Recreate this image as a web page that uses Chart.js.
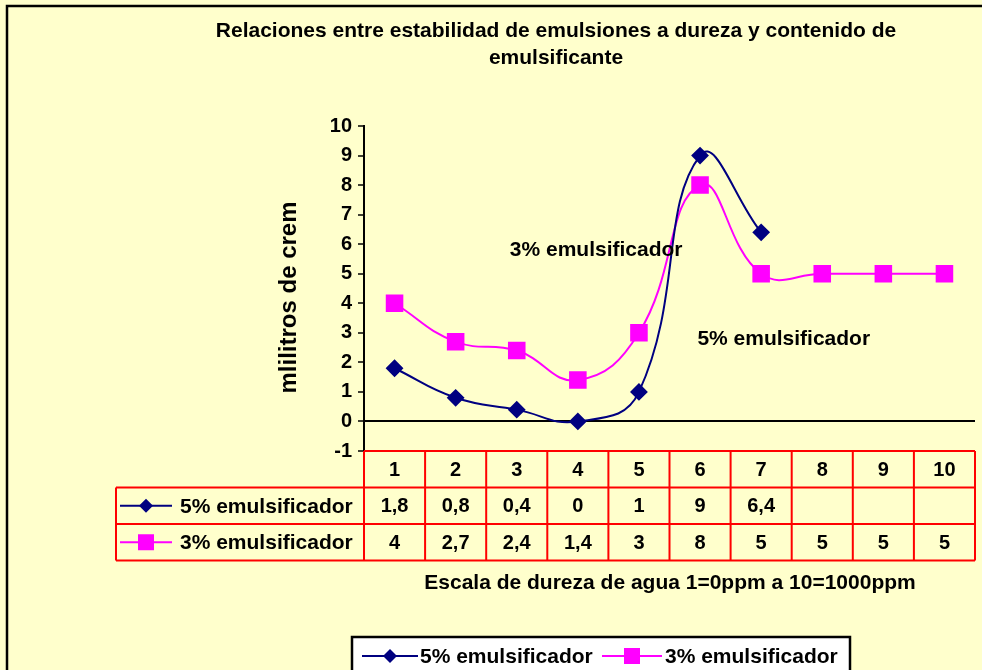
<!DOCTYPE html>
<html>
<head>
<meta charset="utf-8">
<script src="https://cdn.jsdelivr.net/npm/chart.js@4/dist/chart.umd.min.js"></script>
<style>
  html, body { margin: 0; padding: 0; background: #FFFFCC; }
  canvas { display: block; }
</style>
</head>
<body>
<canvas id="chart" width="982" height="670"></canvas>
<script>
const titleLines = ["Relaciones entre estabilidad de emulsiones a dureza y contenido de", "emulsificante"];
const yTitle = "mlilitros de crem";
const xTitle = "Escala de dureza de agua 1=0ppm a 10=1000ppm";

const categories = ["1", "2", "3", "4", "5", "6", "7", "8", "9", "10"];
const seriesNames = ["5% emulsificador", "3% emulsificador"];
const emul5 = [1.8, 0.8, 0.4, 0, 1, 9, 6.4, null, null, null];
const emul3 = [4, 2.7, 2.4, 1.4, 3, 8, 5, 5, 5, 5];

// text notes placed on the plot, in data units (category index, value)
const notes = [
    { text: "3% emulsificador", x: 3.3, y: 5.8 },
    { text: "5% emulsificador", x: 6.37, y: 2.8 }
];

const FONT = 'Arial, "Liberation Sans", sans-serif';
const NAVY = "#000080";
const PINK = "#FF00FF";
const RED = "#FF0000";

function fmt(v) {
    if (v === null || v === undefined) return "";
    return String(v).replace(".", ",");
}

function drawKey(ctx, x1, x2, y, color, shape) {
    ctx.save();
    ctx.strokeStyle = color;
    ctx.lineWidth = 2;
    ctx.beginPath();
    ctx.moveTo(x1, y);
    ctx.lineTo(x2, y);
    ctx.stroke();
    const cx = (x1 + x2) / 2;
    ctx.fillStyle = color;
    ctx.beginPath();
    if (shape === "diamond") {
        ctx.moveTo(cx - 7, y);
        ctx.lineTo(cx, y - 7);
        ctx.lineTo(cx + 7, y);
        ctx.lineTo(cx, y + 7);
        ctx.closePath();
    } else {
        ctx.rect(cx - 8, y - 8, 16, 16);
    }
    ctx.fill();
    ctx.restore();
}

const extras = {
    id: "extras",
    beforeDraw(chart) {
        const ctx = chart.ctx;
        ctx.save();
        ctx.fillStyle = "#FFFFCC";
        ctx.fillRect(0, 0, chart.width, chart.height);
        ctx.restore();
    },
    afterDraw(chart) {
        const ctx = chart.ctx;
        const area = chart.chartArea;
        const xs = chart.scales.x;
        const ys = chart.scales.y;
        const colW = (area.right - area.left) / categories.length;
        const rowH = 36.5;

        ctx.save();

        // outer frame
        ctx.strokeStyle = "#000";
        ctx.lineWidth = 2.5;
        ctx.strokeRect(7, 6, 1000, 700);

        // title
        ctx.fillStyle = "#000";
        ctx.font = "bold 21px " + FONT;
        ctx.textAlign = "center";
        ctx.textBaseline = "middle";
        ctx.fillText(titleLines[0], 556, 31);
        ctx.fillText(titleLines[1], 556, 58);

        // y title
        ctx.save();
        ctx.translate(289, (area.top + area.bottom) / 2 + 9);
        ctx.rotate(-Math.PI / 2);
        ctx.font = "bold 24px " + FONT;
        ctx.fillText(yTitle, 0, 0);
        ctx.restore();

        // notes
        ctx.font = "bold 21px " + FONT;
        notes.forEach(n => {
            ctx.fillText(n.text, xs.getPixelForValue(n.x), ys.getPixelForValue(n.y));
        });

        // data table
        const top = area.bottom;
        const tableLeft = 116;
        ctx.strokeStyle = RED;
        ctx.lineWidth = 2;
        ctx.beginPath();
        ctx.moveTo(area.left, top);
        ctx.lineTo(area.right, top);
        ctx.moveTo(tableLeft, top + rowH);
        ctx.lineTo(area.right, top + rowH);
        ctx.moveTo(tableLeft, top + rowH * 2);
        ctx.lineTo(area.right, top + rowH * 2);
        ctx.moveTo(tableLeft, top + rowH * 3);
        ctx.lineTo(area.right, top + rowH * 3);
        ctx.moveTo(tableLeft, top + rowH);
        ctx.lineTo(tableLeft, top + rowH * 3);
        for (let i = 0; i <= categories.length; i++) {
            const x = area.left + colW * i;
            ctx.moveTo(x, top);
            ctx.lineTo(x, top + rowH * 3);
        }
        ctx.stroke();

        ctx.fillStyle = "#000";
        ctx.font = "bold 20px " + FONT;
        categories.forEach((c, i) => {
            const x = xs.getPixelForValue(i);
            ctx.fillText(c, x, top + rowH * 0.5 + 1);
            ctx.fillText(fmt(emul5[i]), x, top + rowH * 1.5 + 1);
            ctx.fillText(fmt(emul3[i]), x, top + rowH * 2.5 + 1);
        });

        ctx.textAlign = "left";
        ctx.font = "bold 21px " + FONT;
        drawKey(ctx, 120, 172, top + rowH * 1.5, NAVY, "diamond");
        ctx.fillText(seriesNames[0], 180, top + rowH * 1.5 + 1);
        drawKey(ctx, 120, 172, top + rowH * 2.5, PINK, "square");
        ctx.fillText(seriesNames[1], 180, top + rowH * 2.5 + 1);

        // x title
        ctx.textAlign = "center";
        ctx.fillText(xTitle, 670, 583);

        // legend box
        ctx.fillStyle = "#FFFFFF";
        ctx.fillRect(352, 637, 498, 50);
        ctx.strokeStyle = "#000";
        ctx.lineWidth = 2.5;
        ctx.strokeRect(352, 637, 498, 50);
        drawKey(ctx, 362, 418, 656, NAVY, "diamond");
        drawKey(ctx, 602, 662, 656, PINK, "square");
        ctx.fillStyle = "#000";
        ctx.textAlign = "left";
        ctx.fillText(seriesNames[0], 420, 657);
        ctx.fillText(seriesNames[1], 665, 657);

        ctx.restore();
    }
};

new Chart(document.getElementById("chart").getContext("2d"), {
    type: "line",
    data: {
        labels: categories,
        datasets: [
            {
                label: seriesNames[0],
                data: emul5,
                borderColor: NAVY,
                backgroundColor: NAVY,
                borderWidth: 2,
                pointStyle: "rectRot",
                pointRadius: 7.5,
                tension: 0.45,
                spanGaps: false
            },
            {
                label: seriesNames[1],
                data: emul3,
                borderColor: PINK,
                backgroundColor: PINK,
                borderWidth: 2,
                pointStyle: "rect",
                pointRadius: 11,
                tension: 0.45
            }
        ]
    },
    options: {
        responsive: false,
        animation: false,
        layout: { autoPadding: false, padding: { top: 126, right: 7, bottom: 219, left: 0 } },
        plugins: {
            legend: { display: false },
            title: { display: false },
            tooltip: { enabled: false }
        },
        scales: {
            x: { type: "category", offset: true, display: false, ticks: { display: false } },
            y: {
                min: -1,
                max: 10,
                ticks: {
                    stepSize: 1,
                    color: "#000",
                    padding: 6,
                    font: { family: FONT, size: 20, weight: "bold" }
                },
                grid: {
                    color: c => (c.tick && c.tick.value === 0 ? "#000" : "rgba(0,0,0,0)"),
                    lineWidth: 2,
                    tickColor: "#000",
                    tickWidth: 1.5,
                    tickLength: 6
                },
                border: { color: "#000", width: 2 },
                afterFit: s => { s.width = 364; }
            }
        }
    },
    plugins: [extras]
});
</script>
</body>
</html>
